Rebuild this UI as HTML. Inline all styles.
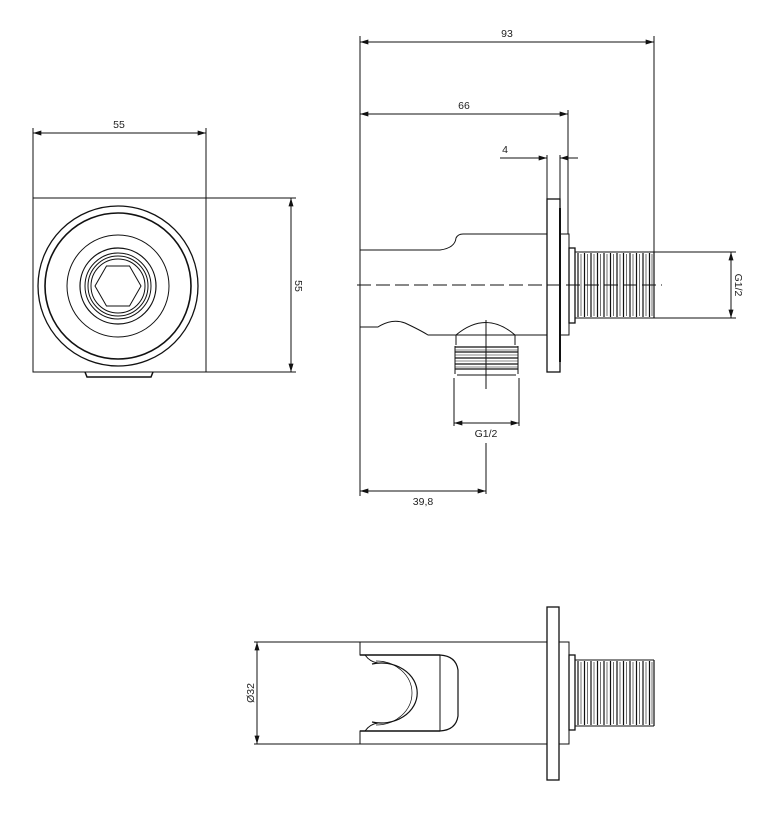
<!DOCTYPE html>
<html><head><meta charset="utf-8"><style>
html,body{margin:0;padding:0;background:#fff;}
svg{display:block;}
text{font-family:"Liberation Sans",sans-serif;font-size:10.5px;fill:#222;}
</style></head><body>
<svg width="760" height="828" viewBox="0 0 760 828" xmlns="http://www.w3.org/2000/svg">
<defs>
<marker id="a" viewBox="0 0 10 6" refX="10" refY="3" markerWidth="9" markerHeight="5" orient="auto-start-reverse" markerUnits="userSpaceOnUse"><path d="M0,0L10,3L0,6z" fill="#111"/></marker>
<g id="thr" fill="none" stroke="#111">
<line x1="575" y1="252" x2="654" y2="252"/>
<line x1="575" y1="318" x2="654" y2="318"/>
<path d="M578,253V317M584.5,253V317M591,253V317M597.5,253V317M604,253V317M610.5,253V317M617,253V317M623.5,253V317M630,253V317M636.5,253V317M643,253V317M649.5,253V317M654,252V318" stroke-width="1.2"/>
<path d="M581,254V316M587.5,254V316M594,254V316M600.5,254V316M607,254V316M613.5,254V316M620,254V316M626.5,254V316M633,254V316M639.5,254V316M646,254V316M652,254V316" stroke-width="0.6"/>
</g>
</defs>
<g fill="none" stroke="#111" stroke-width="1">
<!-- FRONT VIEW -->
<rect x="33" y="198" width="173" height="174"/>
<circle cx="118" cy="286" r="80" stroke-width="1.3"/>
<circle cx="118" cy="286" r="73" stroke-width="1.6"/>
<circle cx="118" cy="286" r="51"/>
<circle cx="118" cy="286" r="38" stroke-width="1.2"/>
<circle cx="118" cy="286" r="33"/>
<circle cx="118" cy="286" r="30"/>
<circle cx="118" cy="286" r="27"/>
<polygon points="95,286 106.5,266 129.5,266 141,286 129.5,306 106.5,306"/>
<path d="M85,372 L87,377 L151,377 L153,372" stroke-width="1.5"/>
<line x1="33" y1="128" x2="33" y2="198"/>
<line x1="206" y1="128" x2="206" y2="198"/>
<line x1="33" y1="133" x2="206" y2="133" marker-start="url(#a)" marker-end="url(#a)"/>
<line x1="206" y1="198" x2="296" y2="198"/>
<line x1="206" y1="372" x2="296" y2="372"/>
<line x1="291" y1="198" x2="291" y2="372" marker-start="url(#a)" marker-end="url(#a)"/>

<!-- SIDE VIEW -->
<path d="M360,250 L440,250 Q455,248 456,238 Q458,234 463,234 L547,234"/>
<path d="M360,250 L360,327 L378,327 Q392,318 405,323 Q420,330 428,335 L547,335"/>
<rect x="547" y="199" width="13" height="173" stroke-width="1.3"/>
<line x1="560" y1="208" x2="560" y2="362" stroke-width="2"/>
<rect x="560" y="234" width="9" height="101"/>
<rect x="569" y="248" width="6" height="75" stroke-width="1.3"/>
<use href="#thr"/>
<line x1="357" y1="285" x2="662" y2="285" stroke-dasharray="14,5"/>
<path d="M456,335 Q486,310 515,335"/>
<line x1="456" y1="335" x2="456" y2="345"/>
<line x1="515" y1="335" x2="515" y2="345"/>
<path d="M455,347h63M455,352h63M455,358h63M455,364h63M455,369h63" stroke-width="1.3"/>
<path d="M455,350h63M455,355h63M455,361h63M455,367h63" stroke-width="0.6"/>
<path d="M455,346v28M518,346v28M457,375h59"/>
<line x1="486" y1="320" x2="486" y2="389"/>
<line x1="360" y1="36" x2="360" y2="496"/>
<line x1="654" y1="36" x2="654" y2="252"/>
<line x1="360" y1="42" x2="654" y2="42" marker-start="url(#a)" marker-end="url(#a)"/>
<line x1="568" y1="110" x2="568" y2="234"/>
<line x1="360" y1="114" x2="568" y2="114" marker-start="url(#a)" marker-end="url(#a)"/>
<line x1="547" y1="155" x2="547" y2="199"/>
<line x1="560" y1="155" x2="560" y2="199"/>
<line x1="500" y1="158" x2="547" y2="158" marker-end="url(#a)"/>
<line x1="578" y1="158" x2="560" y2="158" marker-end="url(#a)"/>
<line x1="454" y1="378" x2="454" y2="426"/>
<line x1="519" y1="378" x2="519" y2="426"/>
<line x1="454" y1="423" x2="519" y2="423" marker-start="url(#a)" marker-end="url(#a)"/>
<line x1="486" y1="443" x2="486" y2="494"/>
<line x1="360" y1="491" x2="486" y2="491" marker-start="url(#a)" marker-end="url(#a)"/>
<line x1="654" y1="252" x2="736" y2="252"/>
<line x1="654" y1="318" x2="736" y2="318"/>
<line x1="731" y1="252" x2="731" y2="318" marker-start="url(#a)" marker-end="url(#a)"/>

<!-- BOTTOM VIEW -->
<path d="M360,642 L547,642 M360,744 L547,744"/>
<path d="M360,642 V655 H365 M360,744 V731 H365"/>
<path d="M360,655 H440 M360,731 H440" stroke-width="1.4"/>
<path d="M365,655 Q370,662 378,663 M365,731 Q370,724 378,723"/>
<path d="M372,664 A36,30 0 1 1 372,722" stroke-width="1.2"/>
<path d="M376,661 A36,32 0 1 1 376,725" stroke-width="0.7"/>
<line x1="440" y1="655" x2="440" y2="731"/>
<path d="M440,655 Q456,656 458,670 L458,716 Q456,730 440,731" stroke-width="1.2"/>
<rect x="547" y="607" width="12" height="173" stroke-width="1.3"/>
<rect x="559" y="642" width="10" height="102"/>
<rect x="569" y="655" width="6" height="75" stroke-width="1.3"/>
<use href="#thr" transform="translate(0,408)"/>
<line x1="254" y1="642" x2="360" y2="642"/>
<line x1="254" y1="744" x2="360" y2="744"/>
<line x1="257" y1="642" x2="257" y2="744" marker-start="url(#a)" marker-end="url(#a)"/>
</g>
<g>
<text x="119" y="128" text-anchor="middle">55</text>
<text x="0" y="0" text-anchor="middle" transform="translate(295,286) rotate(90)">55</text>
<text x="507" y="37" text-anchor="middle">93</text>
<text x="464" y="109" text-anchor="middle">66</text>
<text x="505" y="153" text-anchor="middle">4</text>
<text x="486" y="437" text-anchor="middle">G1/2</text>
<text x="423" y="505" text-anchor="middle">39,8</text>
<text x="0" y="0" text-anchor="middle" transform="translate(735,285) rotate(90)">G1/2</text>
<text x="0" y="0" text-anchor="middle" transform="translate(254,693) rotate(-90)">Ø32</text>
</g>
</svg>
</body></html>
